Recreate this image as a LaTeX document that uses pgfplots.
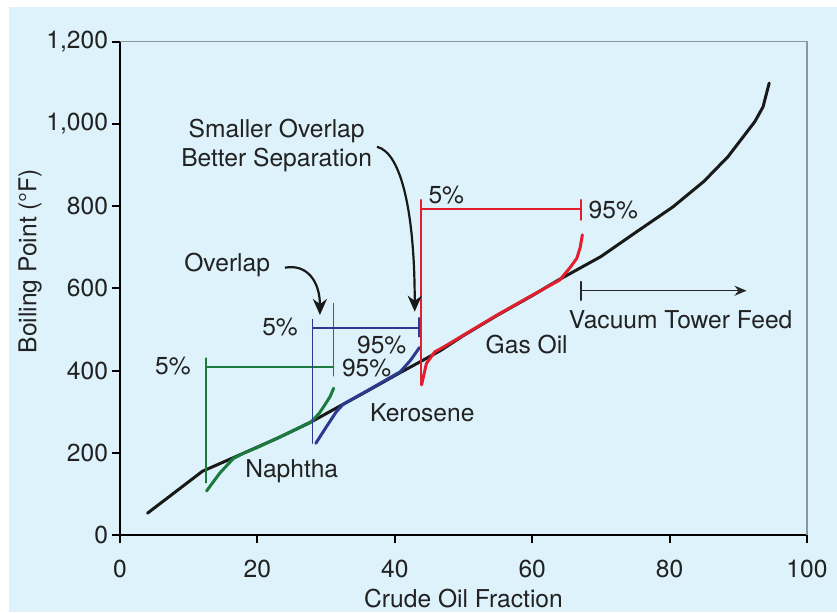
\documentclass[border=0pt]{standalone}
\usepackage{fontspec}
\setmainfont{TeX Gyre Heros}
\usepackage{pgfplots}
\pgfplotsset{compat=1.18}
\usetikzlibrary{arrows.meta}

\definecolor{bg}{HTML}{DDF2FB}
\definecolor{naph}{HTML}{1B7A3E}
\definecolor{kero}{HTML}{2B3990}
\definecolor{gasoil}{HTML}{E31E2D}
\definecolor{txt}{HTML}{222222}
\definecolor{frame}{HTML}{8A979C}

\newcommand{\lbl}{\fontsize{12.3}{14.5}\selectfont}

\begin{document}
\begin{tikzpicture}
\path[use as bounding box] (-60pt,-38.5pt) rectangle (358.5pt,267.5pt);
\fill[bg] (-55.5pt,-38.5pt) rectangle (358.5pt,264pt);
\begin{axis}[
    scale only axis,
    width=343.5pt, height=246.75pt,
    xmin=0, xmax=100, ymin=0, ymax=1200,
    axis x line*=bottom, axis y line*=left,
    axis line style={line width=1pt, black},
    xtick={0,20,...,100}, ytick={0,200,...,1200},
    tick align=outside, major tick length=4pt,
    tick style={line width=1pt, black},
    /pgf/number format/assume math mode=true,
    /pgf/number format/1000 sep={,},
    every tick label/.append style={font=\lbl, text=txt},
    xticklabel style={yshift=-5pt},
    yticklabel style={xshift=1.5pt},
    clip=false,
    every axis plot/.append style={line join=round, line cap=round},
]
% frame (top and right)
\draw[frame, line width=0.6pt] (rel axis cs:0,1) -- (rel axis cs:1,1) -- (rel axis cs:1,0);

% crude distillation curve
\addplot[black!90, line width=1.5pt] coordinates {
  (4,53) (12,155) (18,199) (23,236) (27.5,272) (32.5,318) (36,350)
  (40.8,395) (44,424) (46.6,448) (50,485) (55,535) (60,582) (63.6,618)
  (70,677) (75,735) (80.5,798) (85,860) (88.5,920) (92.4,1005)
  (93.6,1041) (94.5,1099)
};

% naphtha
\addplot[naph, line width=1.5pt] coordinates {
  (12.6,107) (14.5,150) (16.5,186) (18,199) (20,213) (24,244)
  (27.9,276) (29.0,296) (29.8,316) (30.6,337) (31.1,357)
};
% kerosene
\addplot[kero, line width=1.5pt] coordinates {
  (28.5,223) (30,262) (31.5,300) (32.5,318) (36,351) (40.8,397)
  (42.3,425) (43.6,456)
};
% gas oil
\addplot[gasoil, line width=1.5pt] coordinates {
  (43.9,365) (44.6,417) (45.8,445) (47.4,460) (50,486) (55,536)
  (60,583) (64,620) (65.5,650) (66.5,673) (67.0,700) (67.3,730)
};

% naphtha cut bracket
\addplot[naph, line width=0.7pt] coordinates {(12.5,127) (12.5,430)};
\addplot[naph, line width=0.7pt] coordinates {(12.5,409) (31.1,409)};
\addplot[naph, line width=0.7pt] coordinates {(31.1,387) (31.1,563)};
% kerosene cut bracket
\addplot[kero, line width=0.7pt] coordinates {(28.0,223) (28.0,524)};
\addplot[kero, line width=0.7pt] coordinates {(28.0,503) (43.5,503)};
\addplot[kero, line width=0.7pt] coordinates {(43.5,482) (43.5,528)};
% gas oil cut bracket
\addplot[gasoil, line width=0.7pt] coordinates {(43.8,365) (43.8,815)};
\addplot[gasoil, line width=0.7pt] coordinates {(43.8,793) (67.1,793)};
\addplot[gasoil, line width=0.7pt] coordinates {(67.1,766) (67.1,815)};
% vacuum tower feed
\addplot[black!85, line width=0.7pt] coordinates {(67.1,571) (67.1,616)};
\addplot[black!85, line width=0.7pt, -{Stealth[length=6pt,width=5pt]}]
  coordinates {(67.1,594) (91.2,594)};

% annotation arrows
\draw[black!90, line width=1.1pt, -{Stealth[length=8pt,width=7pt]}]
  (axis cs:24.0,650) .. controls (axis cs:27.3,660) and (axis cs:29.1,615) .. (axis cs:29.1,535);
\draw[black!90, line width=1.1pt, -{Stealth[length=8pt,width=7pt]}]
  (axis cs:37.4,944) .. controls (axis cs:41.0,930) and (axis cs:42.9,780) .. (axis cs:42.9,543);

% labels
\begin{scope}[every node/.style={font=\lbl, text=txt, inner sep=0pt}]
\node[align=center] at (axis cs:22.8,948) {Smaller Overlap\\Better Separation};
\node at (axis cs:15.6,656) {Overlap};
\node at (axis cs:7.7,411) {5\%};
\node at (axis cs:35.9,407) {95\%};
\node at (axis cs:23.3,506) {5\%};
\node at (axis cs:38.1,462) {95\%};
\node at (axis cs:47.5,827) {5\%};
\node at (axis cs:71.8,790) {95\%};
\node at (axis cs:25.0,156) {Naphtha};
\node at (axis cs:44.0,297) {Kerosene};
\node at (axis cs:59.2,464) {Gas Oil};
\node at (axis cs:81.6,524) {Vacuum Tower Feed};
\node at (axis description cs:0.5,-0.128) {Crude Oil Fraction};
\node[rotate=90] at (axis description cs:-0.131,0.555) {Boiling Point (°F)};
\end{scope}
\end{axis}
\end{tikzpicture}
\end{document}
